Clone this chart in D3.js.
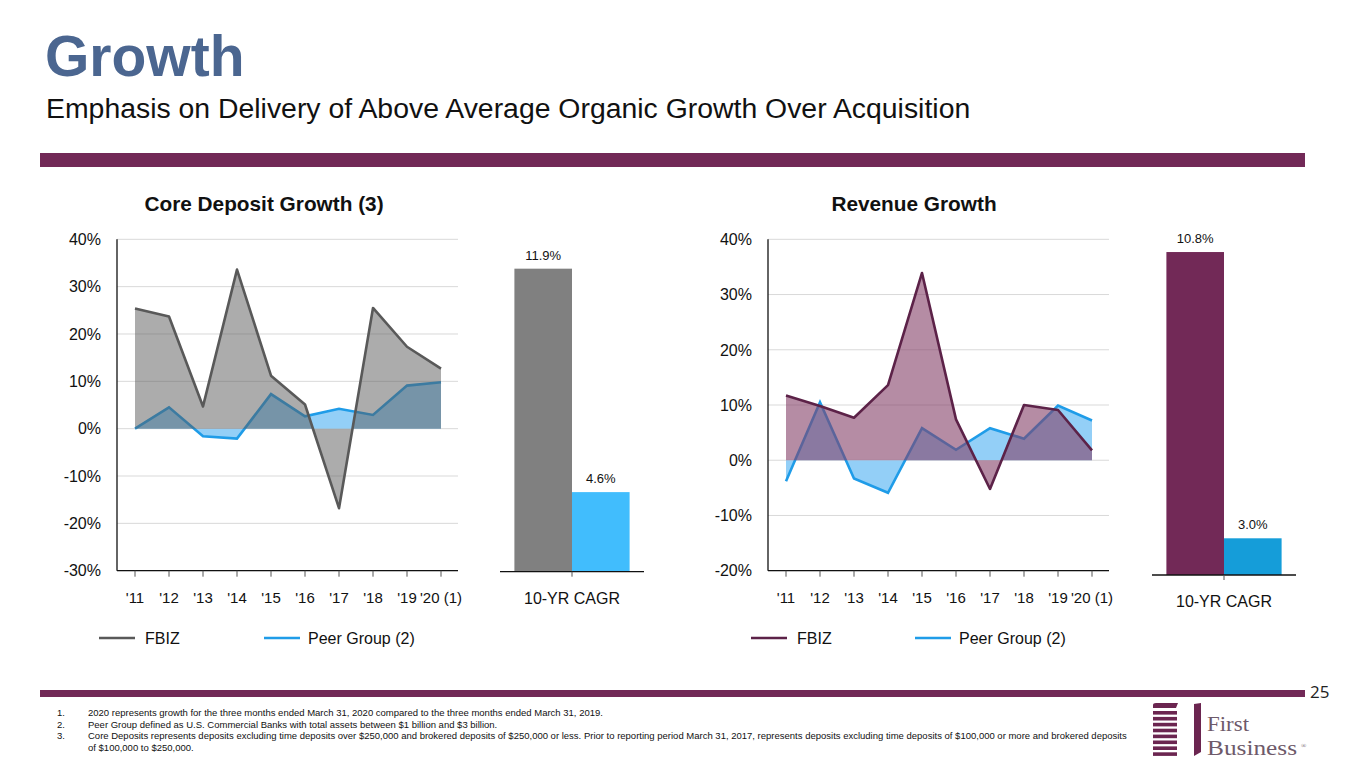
<!DOCTYPE html>
<html><head><meta charset="utf-8">
<script src="https://cdn.jsdelivr.net/npm/d3@7"></script>
<style>
html,body{margin:0;padding:0;background:#fff;}
svg{display:block;font-family:"Liberation Sans",Arial,sans-serif;}
</style></head>
<body>
<svg id="chart" width="1365" height="768"></svg>
<script>
// ---------- data ----------
const years = ["'11","'12","'13","'14","'15","'16","'17","'18","'19","'20 (1)"];
const depositFBIZ = [25.4, 23.7, 4.7, 33.6, 11.2, 5.1, -16.8, 25.5, 17.3, 12.7];
const depositPeer = [0.0, 4.5, -1.6, -2.1, 7.3, 2.6, 4.2, 2.9, 9.1, 9.8];
const revenueFBIZ = [11.7, 9.8, 7.7, 13.6, 33.9, 7.4, -5.2, 10.0, 9.1, 1.8];
const revenuePeer = [-3.8, 10.5, -3.3, -5.9, 5.8, 1.9, 5.8, 3.9, 9.9, 7.2];
const depositTicks = [-30, -20, -10, 0, 10, 20, 30, 40];
const revenueTicks = [-20, -10, 0, 10, 20, 30, 40];
const cagrCategory = ["10-YR CAGR"];
const cagrSeries = ["FBIZ", "Peer Group (2)"];
const depositCagr = [11.9, 4.6];
const revenueCagr = [10.8, 3.0];
const footnotes = [
  "2020 represents growth for the three months ended March 31, 2020 compared to the three months ended March 31, 2019.",
  "Peer Group defined as U.S. Commercial Banks with total assets between $1 billion and $3 billion.",
  "Core Deposits represents deposits excluding time deposits over $250,000 and brokered deposits of $250,000 or less. Prior to reporting period March 31, 2017, represents deposits excluding time deposits of $100,000 or more and brokered deposits",
  "of $100,000 to $250,000."
];

const svg = d3.select("#chart");
const PURPLE = "#722957";

// ---------- header ----------
svg.append("text").attr("x", 45).attr("y", 76).attr("font-size", 57).attr("font-weight", "bold")
  .attr("fill", "#4b6690").text("Growth");
svg.append("text").attr("x", 46).attr("y", 118).attr("font-size", 28.4).attr("fill", "#111")
  .text("Emphasis on Delivery of Above Average Organic Growth Over Acquisition");
svg.append("rect").attr("x", 40).attr("y", 153).attr("width", 1265).attr("height", 14).attr("fill", PURPLE);

// ---------- line/area chart ----------
function lineChart(o) {
  const g = svg.append("g");
  const x = d3.scaleBand().domain(years).range([o.x0, o.x1]);
  const y = d3.scaleLinear().domain(o.domain).range([570.7, 239.3]);
  const cx = d => x(d) + x.bandwidth() / 2;

  g.selectAll(".grid").data(o.ticks).join("line")
    .attr("x1", o.x0 - 1).attr("x2", o.x1).attr("y1", d => y(d)).attr("y2", d => y(d))
    .attr("stroke", "#d9d9d9").attr("stroke-width", 1);

  g.selectAll(".yl").data(o.ticks).join("text")
    .attr("x", o.x0 - 17).attr("y", d => y(d)).attr("dy", "0.36em").attr("text-anchor", "end")
    .attr("font-size", 16).attr("fill", "#111").text(d => d + "%");

  const peer = years.map((k, i) => ({ k, v: o.peer[i] }));
  const fb = years.map((k, i) => ({ k, v: o.fbiz[i] }));
  const area = d3.area().x(d => cx(d.k)).y0(y(0)).y1(d => y(d.v));
  const line = d3.line().x(d => cx(d.k)).y(d => y(d.v));

  g.append("path").datum(peer).attr("d", area).attr("fill", "#93cff7");
  g.append("path").datum(peer).attr("d", line).attr("fill", "none").attr("stroke", "#1f9ce8").attr("stroke-width", 2.6);
  g.append("path").datum(fb).attr("d", area).attr("fill", o.fbFill);
  g.append("path").datum(fb).attr("d", line).attr("fill", "none").attr("stroke", o.fbLine).attr("stroke-width", 2.6)
    .attr("stroke-linejoin", "round");

  // axes
  g.append("line").attr("x1", o.x0 - 1).attr("x2", o.x0 - 1).attr("y1", y(o.domain[1])).attr("y2", y(o.domain[0]))
    .attr("stroke", "#111").attr("stroke-width", 1.3);
  g.append("line").attr("x1", o.x0 - 1).attr("x2", o.x1).attr("y1", y(o.domain[0])).attr("y2", y(o.domain[0]))
    .attr("stroke", "#111").attr("stroke-width", 1.3);
  g.selectAll(".xt").data(years).join("line")
    .attr("x1", d => cx(d)).attr("x2", d => cx(d)).attr("y1", y(o.domain[0])).attr("y2", y(o.domain[0]) + 6)
    .attr("stroke", "#555").attr("stroke-width", 1);
  g.selectAll(".xl").data(years).join("text")
    .attr("x", d => cx(d)).attr("y", 603).attr("text-anchor", "middle")
    .attr("font-size", 15).attr("fill", "#111").text(d => d);

  // title
  g.append("text").attr("x", o.titleX).attr("y", 211).attr("text-anchor", "middle")
    .attr("font-size", 20.8).attr("font-weight", "bold").attr("fill", "#111").text(o.title);

  // legend
  const lg = g.append("g");
  lg.append("line").attr("x1", o.leg[0]).attr("x2", o.leg[0] + 36).attr("y1", 638).attr("y2", 638)
    .attr("stroke", o.fbLine).attr("stroke-width", 2.5);
  lg.append("text").attr("x", o.leg[0] + 46).attr("y", 644).attr("font-size", 16).attr("fill", "#111").text("FBIZ");
  lg.append("line").attr("x1", o.leg[1]).attr("x2", o.leg[1] + 36).attr("y1", 638).attr("y2", 638)
    .attr("stroke", "#1f9ce8").attr("stroke-width", 2.5);
  lg.append("text").attr("x", o.leg[1] + 44).attr("y", 644).attr("font-size", 16).attr("fill", "#111").text("Peer Group (2)");
}

lineChart({ x0: 118, x1: 458, domain: [-30, 40], ticks: depositTicks, fbiz: depositFBIZ, peer: depositPeer,
  fbFill: "rgba(90,90,90,0.5)", fbLine: "#595959", title: "Core Deposit Growth (3)", titleX: 264, leg: [99, 264] });
lineChart({ x0: 769, x1: 1109, domain: [-20, 40], ticks: revenueTicks, fbiz: revenueFBIZ, peer: revenuePeer,
  fbFill: "rgba(132,63,103,0.6)", fbLine: "#5c2248", title: "Revenue Growth", titleX: 914, leg: [751, 915] });

// ---------- CAGR bars ----------
function barChart(o) {
  const g = svg.append("g");
  const x = d3.scaleBand().domain(cagrCategory).range([o.x0, o.x1]).paddingOuter(0.125).paddingInner(0);
  const xs = d3.scaleBand().domain(cagrSeries).range([0, x.bandwidth()]);
  const y = d3.scaleLinear().domain([2, o.max]).range([o.base, o.top]);
  const data = cagrSeries.map((s, i) => ({ s, v: o.values[i], c: o.colors[i] }));
  g.selectAll("rect").data(data).join("rect")
    .attr("x", d => x(cagrCategory[0]) + xs(d.s)).attr("width", xs.bandwidth())
    .attr("y", d => y(d.v)).attr("height", d => o.base - y(d.v)).attr("fill", d => d.c);
  g.selectAll(".lbl").data(data).join("text")
    .attr("x", d => x(cagrCategory[0]) + xs(d.s) + xs.bandwidth() / 2).attr("y", d => y(d.v) - 9)
    .attr("text-anchor", "middle").attr("font-size", 13).attr("fill", "#111").text(d => d.v.toFixed(1) + "%");
  g.append("line").attr("x1", o.x0).attr("x2", o.x1).attr("y1", o.base).attr("y2", o.base)
    .attr("stroke", "#111").attr("stroke-width", 1.3);
  const c = x(cagrCategory[0]) + x.bandwidth() / 2;
  g.append("line").attr("x1", c).attr("x2", c).attr("y1", o.base).attr("y2", o.base + 5).attr("stroke", "#555");
  g.append("text").attr("x", c).attr("y", o.base + 32).attr("text-anchor", "middle")
    .attr("font-size", 16).attr("fill", "#111").text(cagrCategory[0]);
}
barChart({ x0: 500, x1: 644, base: 571.7, top: 235, max: 13, values: depositCagr, colors: ["#808080", "#41bdfd"] });
barChart({ x0: 1152, x1: 1296, base: 575, top: 244.7, max: 11, values: revenueCagr, colors: [PURPLE, "#159dd9"] });

// ---------- footer ----------
svg.append("rect").attr("x", 40).attr("y", 690).attr("width", 1265).attr("height", 7).attr("fill", PURPLE);
svg.append("text").attr("x", 1310).attr("y", 698).attr("font-size", 17).attr("font-family", "Open Sans, sans-serif")
  .attr("fill", "#222").text("25");
const fn = svg.append("g").attr("font-size", 9.5).attr("fill", "#111");
footnotes.forEach((t, i) => {
  const yy = 716 + i * 11.5;
  if (i < 3) fn.append("text").attr("x", 57).attr("y", yy).text((i + 1) + ".");
  fn.append("text").attr("x", 88).attr("y", yy).text(t);
});

// logo
const logo = svg.append("g");
logo.append("path").attr("d", "M1153,708 L1153,705 Q1153,703 1156,703 L1178,703 L1176,708 Z").attr("fill", "#6b2550");
d3.range(8).forEach(i => {
  logo.append("rect").attr("x", 1153).attr("y", 711 + i * 5.9).attr("width", 24).attr("height", 3.6).attr("fill", "#6b2550");
});
logo.append("path").attr("d", "M1194,704 L1201,703 L1201,752 L1194,756 Z").attr("fill", "#6b2550");
const serif = "Liberation Serif, serif";
logo.append("text").attr("x", 1207).attr("y", 731).attr("font-family", serif).attr("font-size", 21).attr("fill", "#6e5a6a")
  .attr("textLength", 42).attr("lengthAdjust", "spacingAndGlyphs").text("First");
logo.append("text").attr("x", 1207).attr("y", 755).attr("font-family", serif).attr("font-size", 21).attr("fill", "#6e5a6a")
  .attr("textLength", 90).attr("lengthAdjust", "spacingAndGlyphs").text("Business");
logo.append("text").attr("x", 1301).attr("y", 748).attr("font-family", serif).attr("font-size", 7).attr("fill", "#6e5a6a").text("®");
</script>
</body></html>
